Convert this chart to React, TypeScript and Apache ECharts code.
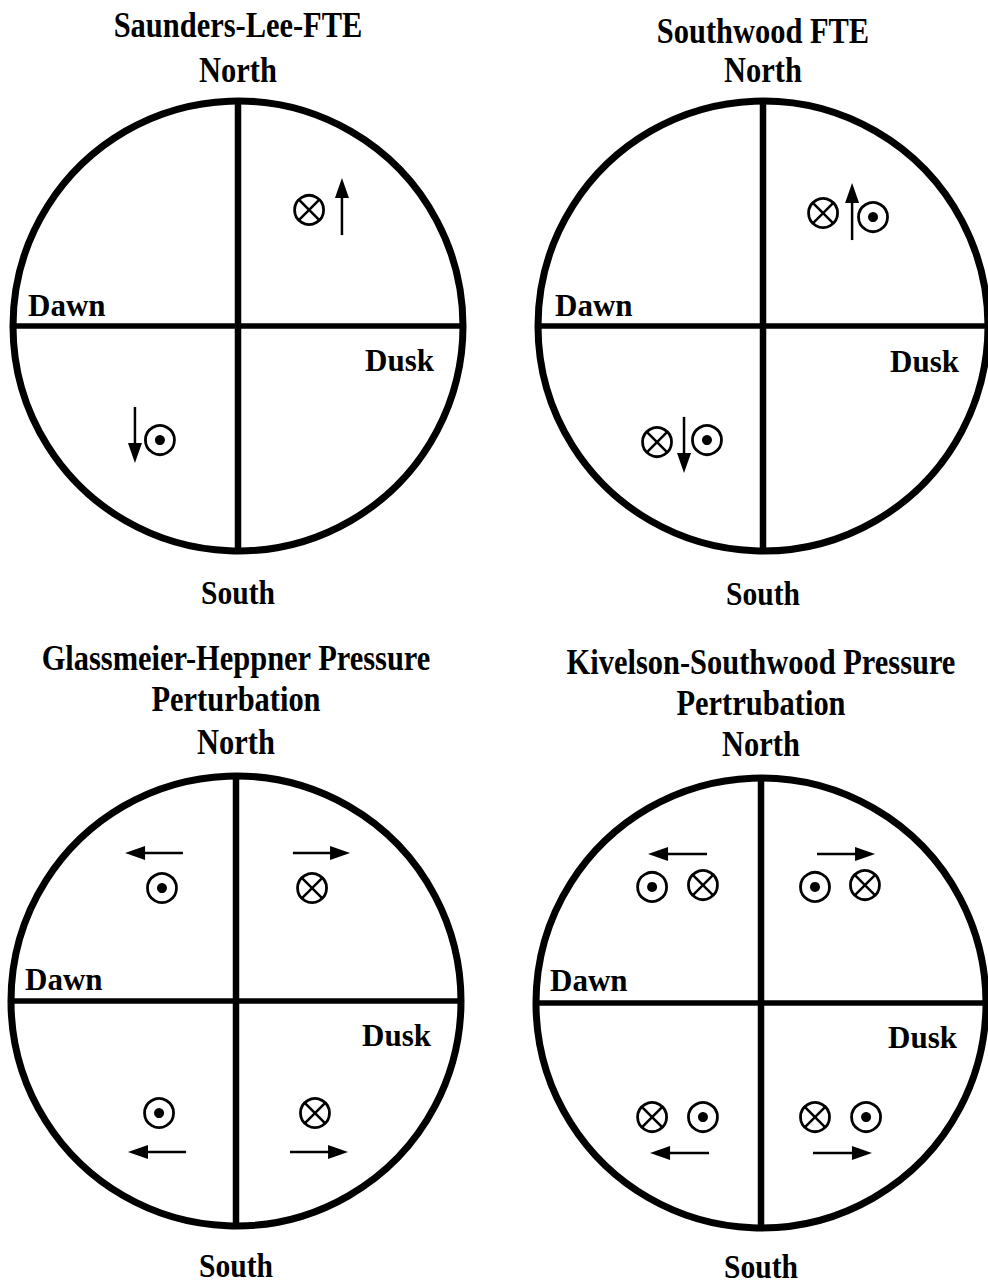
import React, { useEffect, useRef } from "react";
import * as echarts from "echarts";

// ---- Data (unit coordinates: circle radius = 1, centre = 0,0) ----
const panelTitles: string[][] = [
  ["Saunders-Lee-FTE"],
  ["Southwood FTE"],
  ["Glassmeier-Heppner Pressure", "Perturbation"],
  ["Kivelson-Southwood Pressure", "Pertrubation"],
];
const northLabel = "North";
const southLabel = "South";
const dawnLabel = "Dawn";
const duskLabel = "Dusk";

// field into the page (⊗)
const intoMarks: number[][][] = [
  [[0.316, 0.516]],
  [[0.267, 0.502], [-0.471, -0.516]],
  [[0.338, 0.502], [0.351, -0.498]],
  [[-0.258, 0.524], [0.462, 0.524], [-0.484, -0.507], [0.24, -0.507]],
];
// field out of the page (⊙)
const outMarks: number[][][] = [
  [[-0.347, -0.507]],
  [[0.489, 0.484], [-0.249, -0.507]],
  [[-0.329, 0.502], [-0.342, -0.498]],
  [[-0.484, 0.516], [0.24, 0.516], [-0.258, -0.507], [0.467, -0.507]],
];
// arrows: [x tail, y tail, x tip, y tip]
const arrowMarks: number[][][] = [
  [[0.462, 0.404, 0.462, 0.658], [-0.458, -0.36, -0.458, -0.609]],
  [[0.396, 0.382, 0.396, 0.636], [-0.351, -0.404, -0.351, -0.653]],
  [[-0.236, 0.658, -0.493, 0.658], [0.253, 0.658, 0.507, 0.658], [-0.222, -0.671, -0.48, -0.671], [0.24, -0.671, 0.498, -0.671]],
  [[-0.24, 0.662, -0.502, 0.662], [0.249, 0.662, 0.507, 0.662], [-0.231, -0.667, -0.493, -0.667], [0.231, -0.667, 0.493, -0.667]],
];

// ---- Layout ----
const W = 988;
const H = 1287;
const R = 225;
const centers = [
  [238, 326],
  [763, 326],
  [236, 1001],
  [761, 1003],
];
const titleY = [[25], [31], [658, 699], [662, 703]];
const northY = [70, 70, 742, 744];
const southY = [593, 594, 1266, 1267];
const dawnPos = [[28, 305], [555, 305], [25, 979], [550, 980]];
const duskPos = [[365, 360], [890, 361], [362, 1035], [888, 1037]];

const FONT_FAMILY = '"Liberation Serif", "Times New Roman", serif';
const SYM_R = 14.5;

function txt(text: string, x: number, y: number, align: string, size: number, sx = 1) {
  return {
    type: "text",
    x,
    y,
    scaleX: sx,
    originX: 0,
    style: {
      text,
      fill: "#000",
      font: `bold ${size}px ${FONT_FAMILY}`,
      align,
      verticalAlign: "middle",
      textAlign: align,
      textVerticalAlign: "middle",
    },
    silent: true,
  };
}

export default function App() {
  const ref = useRef<HTMLDivElement>(null);
  useEffect(() => {
    if (!ref.current) return;
    const chart = echarts.init(ref.current, undefined, { renderer: "svg" });

    const grids: any[] = [];
    const xAxes: any[] = [];
    const yAxes: any[] = [];
    const series: any[] = [];
    const graphics: any[] = [];

    centers.forEach(([cx, cy], i) => {
      grids.push({ left: cx - R, top: cy - R, width: 2 * R, height: 2 * R, containLabel: false });
      xAxes.push({ type: "value", gridIndex: i, min: -1, max: 1, show: false });
      yAxes.push({ type: "value", gridIndex: i, min: -1, max: 1, show: false });

      series.push({
        type: "custom",
        xAxisIndex: i,
        yAxisIndex: i,
        clip: false,
        silent: true,
        data: [[0, 0]],
        renderItem: (_p: any, api: any) => {
          const c = api.coord([0, 0]);
          const r = api.size([1, 1])[0];
          return {
            type: "group",
            children: [
              { type: "circle", shape: { cx: c[0], cy: c[1], r }, style: { fill: "none", stroke: "#000", lineWidth: 7 } },
              { type: "line", shape: { x1: c[0] - r, y1: c[1], x2: c[0] + r, y2: c[1] }, style: { stroke: "#000", lineWidth: 5.5 } },
              { type: "line", shape: { x1: c[0], y1: c[1] - r, x2: c[0], y2: c[1] + r }, style: { stroke: "#000", lineWidth: 6.5 } },
            ],
          };
        },
      });

      series.push({
        type: "custom",
        xAxisIndex: i,
        yAxisIndex: i,
        clip: false,
        silent: true,
        data: intoMarks[i],
        renderItem: (_p: any, api: any) => {
          const c = api.coord([api.value(0), api.value(1)]);
          const d = SYM_R * Math.SQRT1_2;
          return {
            type: "group",
            children: [
              { type: "circle", shape: { cx: c[0], cy: c[1], r: SYM_R }, style: { fill: "#fff", stroke: "#000", lineWidth: 2.8 } },
              { type: "line", shape: { x1: c[0] - d, y1: c[1] - d, x2: c[0] + d, y2: c[1] + d }, style: { stroke: "#000", lineWidth: 2.5 } },
              { type: "line", shape: { x1: c[0] + d, y1: c[1] - d, x2: c[0] - d, y2: c[1] + d }, style: { stroke: "#000", lineWidth: 2.5 } },
            ],
          };
        },
      });

      series.push({
        type: "custom",
        xAxisIndex: i,
        yAxisIndex: i,
        clip: false,
        silent: true,
        data: outMarks[i],
        renderItem: (_p: any, api: any) => {
          const c = api.coord([api.value(0), api.value(1)]);
          return {
            type: "group",
            children: [
              { type: "circle", shape: { cx: c[0], cy: c[1], r: SYM_R }, style: { fill: "#fff", stroke: "#000", lineWidth: 2.8 } },
              { type: "circle", shape: { cx: c[0], cy: c[1], r: 5 }, style: { fill: "#000" } },
            ],
          };
        },
      });

      series.push({
        type: "custom",
        xAxisIndex: i,
        yAxisIndex: i,
        clip: false,
        silent: true,
        encode: { x: [0, 2], y: [1, 3] },
        data: arrowMarks[i],
        renderItem: (_p: any, api: any) => {
          const a = api.coord([api.value(0), api.value(1)]);
          const b = api.coord([api.value(2), api.value(3)]);
          const dx = b[0] - a[0];
          const dy = b[1] - a[1];
          const len = Math.sqrt(dx * dx + dy * dy) || 1;
          const ux = dx / len;
          const uy = dy / len;
          const hl = 20;
          const hw = 7;
          const bx = b[0] - ux * hl;
          const by = b[1] - uy * hl;
          return {
            type: "group",
            children: [
              { type: "line", shape: { x1: a[0], y1: a[1], x2: bx + ux * 2, y2: by + uy * 2 }, style: { stroke: "#000", lineWidth: 2.5 } },
              {
                type: "polygon",
                shape: { points: [[b[0], b[1]], [bx - uy * hw, by + ux * hw], [bx + uy * hw, by - ux * hw]] },
                style: { fill: "#000" },
              },
            ],
          };
        },
      });

      panelTitles[i].forEach((t, k) => graphics.push(txt(t, cx, titleY[i][k], "center", 35, 0.87)));
      graphics.push(txt(northLabel, cx, northY[i], "center", 35, 0.87));
      graphics.push(txt(southLabel, cx, southY[i], "center", 34, 0.87));
      graphics.push(txt(dawnLabel, dawnPos[i][0], dawnPos[i][1], "left", 31));
      graphics.push(txt(duskLabel, duskPos[i][0], duskPos[i][1], "left", 31));
    });

    chart.setOption({
      animation: false,
      backgroundColor: "#fff",
      grid: grids,
      xAxis: xAxes,
      yAxis: yAxes,
      series,
      graphic: graphics,
    });
    return () => chart.dispose();
  }, []);

  return <div ref={ref} style={{ position: "absolute", left: 0, top: 0, width: W, height: H }} />;
}
